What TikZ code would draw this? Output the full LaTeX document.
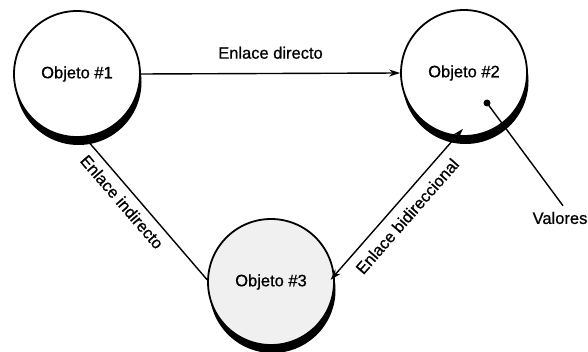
\documentclass[tikz,border=0pt]{standalone}
\usepackage{fontspec}
\setmainfont{Liberation Sans}[FakeBold=0.8]
\usetikzlibrary{arrows.meta,shadows}
\begin{document}
\begin{tikzpicture}[x=1pt,y=-1pt,
  obj/.style={circle, draw=black, line width=1.8pt, fill=white, minimum size=126pt, inner sep=0pt,
    font=\fontsize{16.5}{19}\selectfont,
    drop shadow={shadow xshift=1.5pt, shadow yshift=-8pt, fill=black, opacity=1}},
  lbl/.style={font=\fontsize{16.5}{19}\selectfont, inner sep=1pt},
  link/.style={line width=1.4pt}
]
\useasboundingbox (0,0) rectangle (588,352);
\node[obj] (o1) at (77,74) {Objeto \#1};
\node[obj] (o2) at (464,73) {Objeto \#2};
\node[obj, fill=black!6] (o3) at (271,282) {Objeto \#3};

\draw[link, -{Stealth[length=11pt,width=7pt]}] (o1.east) -- (o2.west)
  node[lbl, midway, above=13pt] {Enlace directo};

\draw[link] (o1.-83) -- (o3.178)
  node[lbl, pos=0.39, sloped, below=6pt] {Enlace indirecto};

\draw[link, {Stealth[length=11pt,width=7pt]}-{Stealth[length=11pt,width=7pt]},
  shorten <=-10pt, shorten >=-6pt] (o2.-97) -- (o3.6)
  node[lbl, midway, sloped, below=8pt] {Enlace bidireccional};

\node[circle, fill=black, inner sep=0pt, minimum size=7pt] (dot) at (487,103) {};
\node[lbl] (val) at (560,218) {Valores};
\draw[link] (dot.center) -- ([xshift=3pt,yshift=5pt]val.north);
\end{tikzpicture}
\end{document}
